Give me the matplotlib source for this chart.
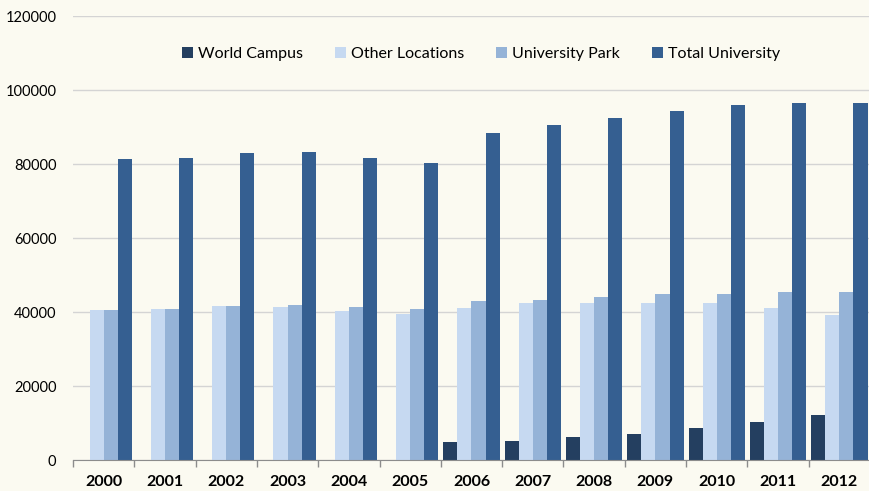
import numpy as np
import matplotlib.pyplot as plt

years = ["2000", "2001", "2002", "2003", "2004", "2005", "2006",
         "2007", "2008", "2009", "2010", "2011", "2012"]
world_campus = [0, 0, 0, 0, 0, 0, 4950, 5200, 6200, 7100, 8600, 10400, 12100]
other_locations = [40600, 40900, 41600, 41350, 40300, 39500, 41000,
                   42500, 42500, 42500, 42500, 41000, 39200]
university_park = [40600, 40900, 41600, 41900, 41350, 40700, 42900,
                   43200, 44100, 45000, 45000, 45300, 45300]
total_university = [81350, 81600, 82900, 83200, 81600, 80200, 88400,
                    90500, 92300, 94200, 95900, 96400, 96400]

series = [
    ("World Campus", world_campus, "#243f60"),
    ("Other Locations", other_locations, "#c6d9f1"),
    ("University Park", university_park, "#95b3d7"),
    ("Total University", total_university, "#355f91"),
]

plt.rcParams['font.family'] = ['Lato', 'DejaVu Sans']

fig = plt.figure(figsize=(8.7, 4.91), dpi=100)
fig.patch.set_facecolor("#fbfaf1")
ax = fig.add_axes([73 / 870, 1 - 460 / 491, 797 / 870, 444 / 491])
ax.set_facecolor("none")

x = np.arange(len(years))
w = 0.23
for i, (name, vals, col) in enumerate(series):
    ax.bar(x + (i - 1.5) * w, vals, width=w, color=col, label=name, zorder=3)

ax.set_ylim(0, 120000)
ax.set_yticks(np.arange(0, 120001, 20000))
ax.set_xlim(-0.5, len(years) - 0.5)
ax.grid(axis="y", color="#d4d4d4", linewidth=1, zorder=0)

ax.set_xticks(x)
ax.set_xticklabels(years, fontweight="bold", fontsize=11.5)
ax.tick_params(axis="x", length=0, pad=11)
ax.set_xticks(np.arange(-0.5, len(years)), minor=True)
ax.tick_params(axis="x", which="minor", length=5, color="#8c8c8c", width=1)
ax.tick_params(axis="y", length=0, pad=12, labelsize=10.5)

for s in ["top", "right", "left"]:
    ax.spines[s].set_visible(False)
ax.spines["bottom"].set_color("#8c8c8c")
ax.spines["bottom"].set_zorder(4)

ax.legend(loc="center", bbox_to_anchor=(0.512, 0.914), ncol=4, frameon=False,
          fontsize=11.5, handlelength=0.7, handleheight=0.7, handletextpad=0.3,
          columnspacing=2.0)

fig.savefig("out.png", dpi=100, facecolor=fig.get_facecolor())
